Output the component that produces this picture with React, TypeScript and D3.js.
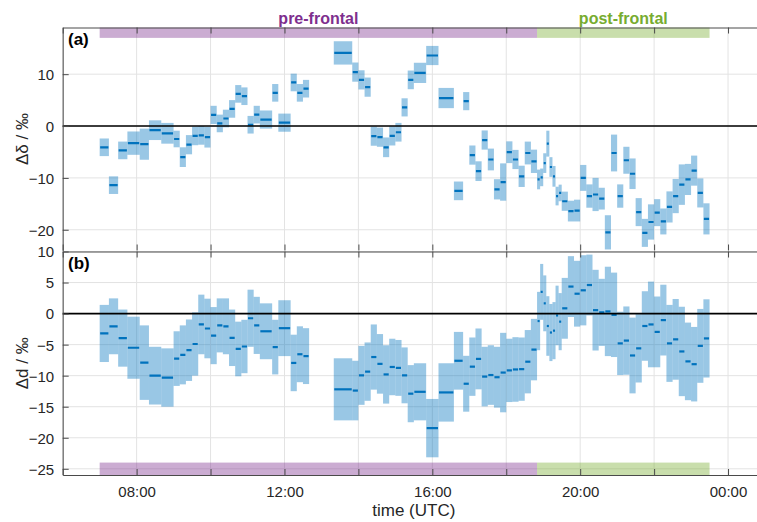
import React, { useEffect, useRef } from "react";
import * as d3 from "d3";

// measurement intervals (UTC), shared by both panels
const segStart = [
  "07:00", "07:15", "07:30", "07:45", "08:05", "08:20", "08:40", "09:00", "09:10", "09:20",
  "09:30", "09:40", "09:50", "10:00", "10:10", "10:20", "10:30", "10:40", "10:50", "11:00",
  "11:10", "11:20", "11:40", "11:50", "12:10", "12:20", "12:30",
  "13:20", "13:50", "14:00", "14:10", "14:20", "14:30", "14:40", "14:50", "15:00", "15:10",
  "15:20", "15:30", "15:50", "16:10", "16:35", "16:50", "17:00", "17:10", "17:20", "17:30",
  "17:40", "17:50", "18:00", "18:10", "18:20", "18:30", "18:40", "18:50", "18:55", "19:00",
  "19:05", "19:10", "19:15", "19:20", "19:25", "19:30", "19:40", "19:50", "20:00", "20:10",
  "20:20", "20:30", "20:40", "20:50", "21:00", "21:10", "21:20", "21:30", "21:40", "21:50",
  "22:00", "22:10", "22:20", "22:30", "22:40", "22:50", "23:00", "23:10", "23:20",
];
const segEnd = [
  "07:15", "07:30", "07:45", "08:05", "08:20", "08:40", "09:00", "09:10", "09:20", "09:30",
  "09:40", "09:50", "10:00", "10:10", "10:20", "10:30", "10:40", "10:50", "11:00", "11:10",
  "11:20", "11:40", "11:50", "12:10", "12:20", "12:30", "12:40",
  "13:50", "14:00", "14:10", "14:20", "14:30", "14:40", "14:50", "15:00", "15:10", "15:20",
  "15:30", "15:50", "16:10", "16:35", "16:50", "17:00", "17:10", "17:20", "17:30", "17:40",
  "17:50", "18:00", "18:10", "18:20", "18:30", "18:40", "18:50", "18:55", "19:00", "19:05",
  "19:10", "19:15", "19:20", "19:25", "19:30", "19:40", "19:50", "20:00", "20:10", "20:20",
  "20:30", "20:40", "20:50", "21:00", "21:10", "21:20", "21:30", "21:40", "21:50", "22:00",
  "22:10", "22:20", "22:30", "22:40", "22:50", "23:00", "23:10", "23:20", "23:30",
];

// (a) delta-delta and its uncertainty
const deltaDelta = [
  -4.1, -11.4, -4.7, -3.3, -3.5, -0.8, -1.4, -2.5, -6.0, -3.6,
  -1.9, -1.8, -2.15, 2.15, 0.5, 1.45, 3.3, 6.2, 5.75, 0.25,
  2.2, 1.25, 6.4, 0.65, 8.4, 6.4, 7.2,
  14.1, 10.4, 8.9, 7.5, -1.95, -2.15, -4.1, -1.9, -1.2, 3.6,
  8.9, 10.25, 13.6, 5.4, -12.5, 4.8, -5.6, -8.7, -2.7, -6.45,
  -12.2, -10.8, -5.05, -6.45, -9.7, -5.2, -6.8, -10.3, -9.9, -7.15,
  -3.4, -7.9, -9.7, -13.5, -12.9, -14.5, -16.4, -16.3, -10.0, -13.5,
  -13.2, -14.0, -20.5, -5.2, -13.5, -6.6, -9.2, -16.6, -20.6, -18.5,
  -16.7, -18.4, -15.6, -13.5, -11.3, -10.3, -8.6, -12.9, -17.9,
];
const deltaDeltaErr = [
  1.7, 1.7, 1.7, 2.25, 3.0, 1.9, 2.0, 1.6, 1.9, 1.85,
  1.8, 1.8, 2.0, 1.75, 1.7, 1.7, 1.7, 1.7, 1.7, 1.7,
  1.7, 1.75, 1.7, 1.75, 1.7, 1.7, 1.7,
  2.25, 1.85, 1.85, 1.85, 1.85, 1.85, 1.9, 1.85, 1.8, 1.75,
  1.8, 1.95, 1.85, 1.95, 1.8, 1.75, 1.85, 1.9, 1.85, 2.1,
  1.95, 3.6, 2.1, 1.85, 2.05, 2.2, 2.25, 1.9, 1.7, 1.9,
  2.5, 1.9, 2.0, 1.8, 1.6, 1.85, 2.0, 2.1, 2.5, 2.25,
  3.2, 2.1, 3.3, 3.55, 2.25, 2.6, 2.95, 2.7, 2.7, 3.4,
  2.6, 2.5, 3.0, 3.3, 3.9, 3.0, 2.9, 2.8, 3.0,
];

// (b) delta-d and its uncertainty
const deltaD = [
  -3.2, -2.05, -3.95, -5.5, -7.9, -10.0, -10.3, -7.25, -6.65, -5.9,
  -4.9, -1.75, -2.4, -3.55, -1.9, -2.05, -3.9, -5.7, -5.3, -0.75,
  -1.9, -2.85, -5.4, -2.35, -7.95, -6.55, -6.85,
  -12.2, -12.4, -9.95, -9.35, -7.0, -8.1, -9.8, -8.6, -8.75, -9.95,
  -12.9, -12.6, -18.45, -12.7, -7.6, -11.3, -8.55, -7.3, -10.15, -9.9,
  -10.25, -9.5, -9.15, -9.0, -8.95, -7.75, -5.8, -1.2, 3.5, 1.65,
  -2.0, -3.05, -2.75, -0.3, -1.3, 0.85, 4.35, 3.2, 3.75, 4.6,
  0.55, 0.2, 0.35, -0.2, -4.8, -4.35, -6.75, -5.6, -2.0, -1.75,
  -2.95, -1.05, -4.8, -4.15, -6.1, -7.7, -8.15, -5.2, -4.0,
];
const deltaDErr = [
  4.6, 4.5, 4.6, 5.0, 6.0, 4.65, 4.7, 4.4, 4.75, 4.95,
  5.1, 4.8, 4.8, 4.6, 4.35, 4.5, 4.55, 4.4, 4.3, 4.6,
  4.6, 4.5, 4.4, 4.5, 4.55, 4.5, 4.5,
  5.0, 4.8, 4.75, 4.7, 5.25, 4.8, 4.7, 4.55, 4.5, 4.5,
  4.6, 4.6, 4.7, 4.7, 4.65, 4.5, 4.7, 4.9, 4.8, 4.8,
  4.9, 6.4, 5.1, 5.2, 5.1, 5.1, 4.95, 4.7, 4.5, 4.5,
  4.8, 4.6, 4.6, 4.8, 4.6, 4.9, 4.9, 5.3, 5.65, 4.9,
  6.5, 5.4, 7.2, 6.8, 5.1, 5.5, 6.1, 5.5, 5.6, 6.9,
  5.7, 5.7, 6.2, 6.5, 7.2, 6.25, 6.0, 5.95, 6.3,
];

const periodNames = ["pre-frontal", "post-frontal"];
const periodStart = ["07:00", "18:50"];
const periodEnd = ["18:50", "23:30"];
const periodColors = ["#7e2f8e", "#77ac30"];

const timeLabels = ["08:00", "12:00", "16:00", "20:00", "00:00"];
const ticksA = [-20, -10, 0, 10];
const ticksB = [-25, -20, -15, -10, -5, 0, 5, 10];

const parseTime = (s: string) => {
  const [h, m] = s.split(":").map(Number);
  return new Date(Date.UTC(2000, 0, h < 5 ? 2 : 1, h, m));
};

const App = () => {
  const svgRef = useRef<SVGSVGElement>(null);

  useEffect(() => {
    document.body.style.margin = "0";
    const svg = d3.select(svgRef.current);
    svg.selectAll("*").remove();

    const font = "'Liberation Sans', Arial, Helvetica, sans-serif";
    const textColor = "#262626";
    const axisColor = "#4a4a4a";
    const gridColor = "#e3e3e3";
    const blue = "#0072bd";

    const left = 62.7;
    const right = 765;

    const x = d3
      .scaleUtc()
      .domain([parseTime("06:00"), parseTime("01:00")])
      .range([left, right]);
    const gridTimes = x.ticks(d3.utcHour.every(2) as any);
    const labelTimes = timeLabels.map(parseTime);
    const isLabelled = (d: Date) => labelTimes.some((t) => +t === +d);

    const panels = [
      {
        tag: "(a)", ylab: "\u0394\u03b4 / \u2030", domain: [-24, 19], range: [250.5, 27.5],
        ticks: ticksA, vals: deltaDelta, errs: deltaDeltaErr, band: [17, 19],
      },
      {
        tag: "(b)", ylab: "\u0394d / \u2030", domain: [-26, 10], range: [475, 251.5],
        ticks: ticksB, vals: deltaD, errs: deltaDErr, band: [-26, -24],
      },
    ];

    panels.forEach((p, pi) => {
      const y = d3.scaleLinear().domain(p.domain).range(p.range);
      const top = p.range[1];
      const bot = p.range[0];
      const g = svg.append("g");

      const clipId = "clip" + pi;
      g.append("clipPath")
        .attr("id", clipId)
        .append("rect")
        .attr("x", left)
        .attr("y", top)
        .attr("width", right - left)
        .attr("height", bot - top);

      // grid
      g.selectAll(".vgrid")
        .data(gridTimes)
        .enter()
        .append("line")
        .attr("x1", (d) => x(d))
        .attr("x2", (d) => x(d))
        .attr("y1", top)
        .attr("y2", bot)
        .attr("stroke", gridColor);
      g.selectAll(".hgrid")
        .data(p.ticks)
        .enter()
        .append("line")
        .attr("x1", left)
        .attr("x2", right)
        .attr("y1", (d) => y(d))
        .attr("y2", (d) => y(d))
        .attr("stroke", gridColor);

      // frontal period bands
      g.selectAll(".band")
        .data(periodNames)
        .enter()
        .append("rect")
        .attr("x", (d, i) => x(parseTime(periodStart[i])))
        .attr("width", (d, i) => x(parseTime(periodEnd[i])) - x(parseTime(periodStart[i])))
        .attr("y", y(p.band[1]))
        .attr("height", y(p.band[0]) - y(p.band[1]))
        .attr("fill", (d, i) => periodColors[i])
        .attr("fill-opacity", 0.4);

      const data = g.append("g").attr("clip-path", `url(#${clipId})`);

      data.selectAll(".box")
        .data(p.vals)
        .enter()
        .append("rect")
        .attr("x", (d, i) => x(parseTime(segStart[i])))
        .attr("width", (d, i) => x(parseTime(segEnd[i])) - x(parseTime(segStart[i])))
        .attr("y", (d, i) => y(d + p.errs[i]))
        .attr("height", (d, i) => y(d - p.errs[i]) - y(d + p.errs[i]))
        .attr("fill", blue)
        .attr("fill-opacity", 0.4);

      // zero line
      g.append("line")
        .attr("x1", left)
        .attr("x2", right)
        .attr("y1", y(0))
        .attr("y2", y(0))
        .attr("stroke", "#000")
        .attr("stroke-width", 1.6);

      data.selectAll(".mid")
        .data(p.vals)
        .enter()
        .append("line")
        .attr("x1", (d, i) => x(parseTime(segStart[i])) + 0.5)
        .attr("x2", (d, i) => x(parseTime(segEnd[i])) - 0.5)
        .attr("y1", (d) => y(d))
        .attr("y2", (d) => y(d))
        .attr("stroke", blue)
        .attr("stroke-width", 2.2);

      // axes, ticks pointing inward
      const styleAxis = (a: any) => {
        a.select(".domain").attr("stroke", axisColor);
        a.selectAll(".tick line").attr("stroke", axisColor);
        a.selectAll(".tick text")
          .attr("fill", textColor)
          .attr("font-family", font)
          .attr("font-size", 15);
      };

      const yAxis = g
        .append("g")
        .attr("transform", `translate(${left},0)`)
        .call(d3.axisLeft(y).tickValues(p.ticks).tickSize(-6).tickSizeOuter(0).tickPadding(8.5))
        .call(styleAxis);
      yAxis.selectAll(".tick text").attr("dy", "0.36em");

      g.append("g")
        .attr("transform", `translate(0,${top})`)
        .call(d3.axisTop(x).tickValues(gridTimes).tickSize(-6).tickSizeOuter(0).tickFormat(() => ""))
        .call(styleAxis);

      const xAxis = g
        .append("g")
        .attr("transform", `translate(0,${bot})`)
        .call(
          d3
            .axisBottom(x)
            .tickValues(gridTimes)
            .tickSize(-6)
            .tickSizeOuter(0)
            .tickPadding(11)
            .tickFormat((d: any) => (pi === 1 && isLabelled(d) ? d3.utcFormat("%H:%M")(d) : ""))
        )
        .call(styleAxis);
      if (pi === 0) xAxis.select(".domain").remove();

      // panel tag and y label
      g.append("text")
        .attr("x", 68)
        .attr("y", top + 17.5)
        .attr("font-family", font)
        .attr("font-weight", "bold")
        .attr("font-size", 17)
        .attr("fill", "#000")
        .text(p.tag);

      g.append("text")
        .attr("transform", `translate(28,${(top + bot) / 2}) rotate(-90)`)
        .attr("text-anchor", "middle")
        .attr("font-family", font)
        .attr("font-size", 17)
        .attr("fill", textColor)
        .text(p.ylab);

      if (pi === 0) {
        g.selectAll(".plabel")
          .data(periodNames)
          .enter()
          .append("text")
          .attr("x", (d, i) => (x(parseTime(periodStart[i])) + x(parseTime(periodEnd[i]))) / 2)
          .attr("y", top - 4)
          .attr("text-anchor", "middle")
          .attr("font-family", font)
          .attr("font-weight", "bold")
          .attr("font-size", 16)
          .attr("fill", (d, i) => periodColors[i])
          .text((d) => d);
      }
    });

    svg.append("text")
      .attr("x", (left + right) / 2)
      .attr("y", 516)
      .attr("text-anchor", "middle")
      .attr("font-family", font)
      .attr("font-size", 17)
      .attr("fill", textColor)
      .text("time (UTC)");
  }, []);

  return (
    <svg
      ref={svgRef}
      width={757}
      height={522}
      style={{ position: "absolute", left: 0, top: 0, background: "#fff" }}
    />
  );
};

export default App;
